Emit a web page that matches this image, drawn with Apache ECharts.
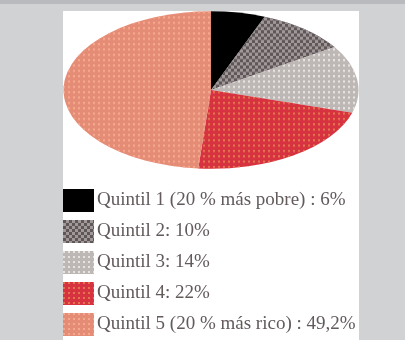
<!DOCTYPE html>
<html>
<head>
<meta charset="utf-8">
<script src="https://cdn.jsdelivr.net/npm/echarts@6/dist/echarts.min.js"></script>
<style>
  html, body { margin: 0; padding: 0; width: 405px; height: 340px; overflow: hidden; background: #d1d2d4; }
  #frame { position: absolute; left: 0; top: 0; width: 405px; height: 340px; }
  /* circular pie, flattened into an ellipse */
  #pie { position: absolute; left: 63px; top: 11px; width: 296px; height: 296px;
         transform-origin: 0 0; transform: scaleY(0.534); }
</style>
</head>
<body>
<div id="frame"></div>
<div id="pie"></div>
<script>
// Income share by quintile (%)
const categories = [
  'Quintil 1 (20 % más pobre)',
  'Quintil 2',
  'Quintil 3',
  'Quintil 4',
  'Quintil 5 (20 % más rico)'
];
const shares = [6, 10, 14, 22, 49.2];
const separators = [' : ', ': ', ': ', ': ', ' : '];

const baseColors  = ['#000000', '#5f5658', '#bdb7b5', '#d6323f', '#e58c76'];
const decalColors = [null, '#a1989a', '#e7e3e1', '#e4734f', '#f5a88d'];

const Y_SCALE = 1 / 0.534;

function decalFor(i, ys) {
  if (i === 0) return undefined;
  if (i === 1) {
    return { symbol: 'rect', color: decalColors[i], symbolSize: 1, symbolKeepAspect: false,
             dashArrayX: [[3, 3], [0, 3, 3, 0]], dashArrayY: [3 * ys, 0] };
  }
  return { symbol: 'rect', color: decalColors[i], symbolSize: 1, symbolKeepAspect: false,
           dashArrayX: [2, 3], dashArrayY: [2 * ys, 3 * ys] };
}

function fmt(v) { return String(v).replace('.', ','); }

function seriesData(ys) {
  return categories.map((name, i) => {
    const style = { color: baseColors[i] };
    const d = decalFor(i, ys);
    if (d) style.decal = d;
    return { name: name, value: shares[i], itemStyle: style };
  });
}

// Background panel + legend
const frame = echarts.init(document.getElementById('frame'), null, { renderer: 'canvas' });
frame.setOption({
  animation: false,
  backgroundColor: '#d1d2d4',
  graphic: [
    { type: 'rect', z: -10, shape: { x: 0, y: 0, width: 405, height: 4 }, style: { fill: '#b9babe' } },
    { type: 'rect', z: -10, shape: { x: 63, y: 11, width: 296, height: 329 }, style: { fill: '#ffffff' } }
  ],
  legend: {
    orient: 'vertical',
    left: 63,
    top: 189,
    padding: 0,
    itemWidth: 31,
    itemHeight: 23,
    itemGap: 8,
    icon: 'rect',
    selectedMode: false,
    data: categories,
    formatter: function (name) {
      const i = categories.indexOf(name);
      return name + separators[i] + fmt(shares[i]) + '%';
    },
    textStyle: {
      fontFamily: 'Liberation Serif',
      fontSize: 19,
      color: '#625a5b',
      padding: [0, 0, 0, -2]
    }
  },
  series: [{
    type: 'pie',
    silent: true,
    center: [-1000, -1000],
    radius: 5,
    label: { show: false },
    labelLine: { show: false },
    data: seriesData(1)
  }]
});

// Pie
const pie = echarts.init(document.getElementById('pie'), null, { renderer: 'svg' });
pie.setOption({
  animation: false,
  series: [{
    type: 'pie',
    silent: true,
    center: ['50%', '50%'],
    radius: 147.5,
    startAngle: 90,
    clockwise: true,
    label: { show: false },
    labelLine: { show: false },
    itemStyle: { borderWidth: 0 },
    data: seriesData(Y_SCALE)
  }]
});
</script>
</body>
</html>
